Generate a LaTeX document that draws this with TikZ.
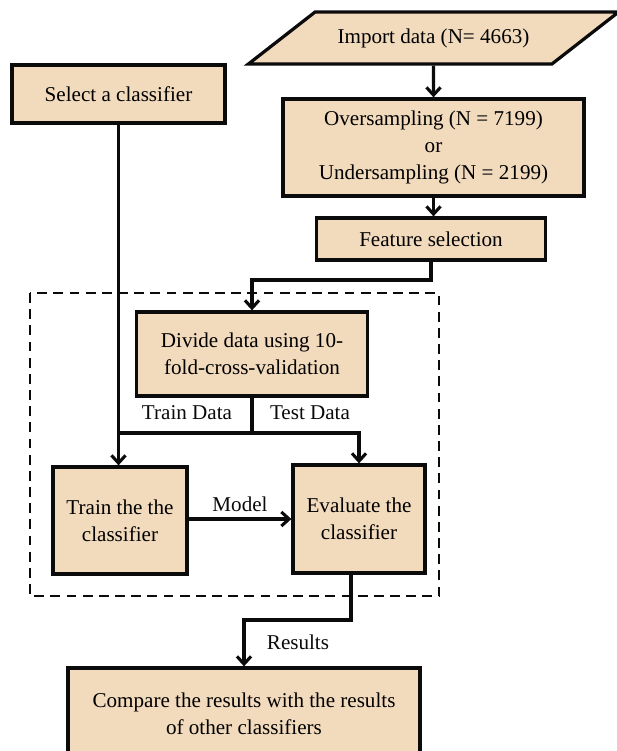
\documentclass[tikz,border=0pt]{standalone}
\usepackage{fontspec}
\setmainfont{Liberation Serif}
\usepackage{tikz}
\usetikzlibrary{arrows.meta,calc,positioning,shapes.geometric}
\definecolor{arena}{HTML}{F2DABD}
\definecolor{tinta}{HTML}{0B0B0B}
\tikzset{
  caja/.style={draw=tinta,fill=arena,line width=2.3pt,align=center,inner sep=2pt,font=\fontsize{15}{19}\selectfont},
  entrada/.style={caja,trapezium,trapezium left angle=24,trapezium right angle=156,trapezium stretches=true},
  linea/.style={draw=tinta,line width=2.2pt},
  flecha/.style={linea,-{Straight Barb[length=5.5pt,width=10pt]}},
  etiqueta/.style={font=\fontsize{15}{19}\selectfont,text=tinta,inner sep=1pt},
  marco/.style={draw=tinta,line width=1.6pt,dash pattern=on 7pt off 4.5pt},
}

\begin{document}
\begin{tikzpicture}[x=0.025cm,y=-0.025cm]
\useasboundingbox (0,0) rectangle (617,751);
\draw[marco] (30,293) rectangle (439,596);
\node[entrada,minimum width=9.275cm,minimum height=1.3cm] (importar) at (433.5,38) {Import data (N= 4663)};
\node[caja,minimum width=5.325cm,minimum height=1.45cm] (seleccion) at (118.5,94) {Select a classifier};
\node[caja,minimum width=7.525cm,minimum height=2.425cm] (muestreo) at (433.5,147.5) {Oversampling (N = 7199)\\or\\Undersampling (N = 2199)};
\node[caja,minimum width=5.725cm,minimum height=1.05cm] (atributos) at (431,239) {Feature selection};
\node[caja,minimum width=5.775cm,minimum height=2.1cm] (dividir) at (252,354) {Divide data using 10-\\fold-cross-validation};
\node[caja,minimum width=3.35cm,minimum height=2.675cm] (entrenar) at (120,520.5) {Train the the\\classifier};
\node[caja,minimum width=3.3cm,minimum height=2.7cm] (evaluar) at (359,519) {Evaluate the\\classifier};
\node[caja,minimum width=8.8cm,minimum height=2.275cm] (comparar) at (244,713.5) {Compare the results with the results\\of other classifiers};
\coordinate (codo1) at (340,280);
\coordinate (reparto) at (252,433);
\coordinate (codo2) at (300,620);
\draw[flecha] (importar.south) -- (muestreo.north);
\draw[flecha] (muestreo.south) -- (muestreo.south |- atributos.north);
\draw[flecha] (atributos.south) |- (codo1) -| (dividir.north);
\draw[flecha] (seleccion.south) -- (seleccion.south |- entrenar.north);
\draw[linea] (dividir.south) -- (reparto);
\draw[linea] (reparto) -- (reparto -| seleccion.south);
\draw[flecha] (reparto) -| (evaluar.north);
\node[etiqueta] (datosentr) at (187,413) {Train Data};
\node[etiqueta] (datosprueba) at (310,413) {Test Data};
\draw[flecha] (entrenar.east |- 0,519) -- (evaluar.west |- 0,519) node[etiqueta,midway,above=3pt] (modelo) {Model};
\draw[flecha] ([xshift=-0.2cm]evaluar.south) |- (codo2) -| (comparar.north);
\node[etiqueta] (resultados) at (298,642) {Results};
\end{tikzpicture}
\end{document}
